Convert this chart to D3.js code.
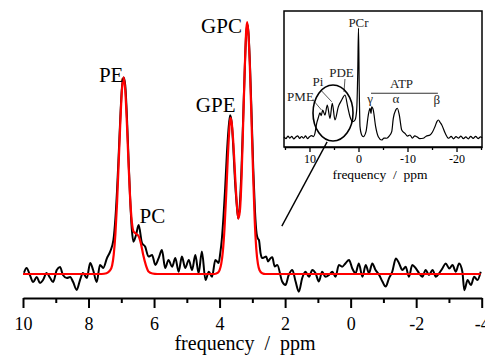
<!DOCTYPE html>
<html>
<head>
<meta charset="utf-8">
<script src="https://cdn.jsdelivr.net/npm/d3@7"></script>
<style>
  html, body { margin: 0; padding: 0; background: #fff; }
  svg { display: block; font-family: "Liberation Serif", "Times New Roman", serif; }
</style>
</head>
<body>
<svg id="chart" width="485" height="356"></svg>
<script>
// measured spectrum (main panel), ppm vs. signal (GPC peak = 100)
const mainPpm = [
  9.97, 9.89, 9.79, 9.69, 9.58, 9.48, 9.39, 9.28, 9.17, 9.08,
  8.97, 8.87, 8.78, 8.66, 8.56, 8.47, 8.36, 8.26, 8.17, 8.05,
  7.95, 7.86, 7.75, 7.65, 7.55, 7.44, 7.34, 7.24, 7.18, 7.13,
  7.08, 7.03, 6.98, 6.93, 6.88, 6.83, 6.78, 6.73, 6.68, 6.63,
  6.55, 6.47, 6.37, 6.27, 6.17, 6.06, 5.96, 5.86, 5.76, 5.66,
  5.56, 5.45, 5.35, 5.25, 5.15, 5.05, 4.94, 4.84, 4.74, 4.64,
  4.54, 4.43, 4.33, 4.23, 4.13, 4.03, 3.98, 3.93, 3.88, 3.83,
  3.78, 3.73, 3.68, 3.63, 3.58, 3.53, 3.48, 3.43, 3.38, 3.33,
  3.28, 3.23, 3.19, 3.15, 3.12, 3.07, 3.02, 2.97, 2.92, 2.87,
  2.83, 2.80, 2.75, 2.70, 2.65, 2.58, 2.52, 2.45, 2.39, 2.32,
  2.24, 2.09, 1.99, 1.89, 1.78, 1.68, 1.58, 1.48, 1.38, 1.27,
  1.17, 1.07, 0.97, 0.87, 0.77, 0.66, 0.56, 0.46, 0.36, 0.26,
  0.16, 0.05, -0.05, -0.15, -0.25, -0.36, -0.46, -0.56, -0.66, -0.76,
  -0.87, -0.97, -1.07, -1.17, -1.27, -1.38, -1.48, -1.58, -1.68, -1.78,
  -1.88, -1.99, -2.09, -2.19, -2.29, -2.39, -2.50, -2.60, -2.70, -2.80,
  -2.90, -3.01, -3.11, -3.21, -3.31, -3.41, -3.47, -3.57, -3.67, -3.77,
  -3.87, -3.97
];
const mainSignal = [
  0.5, 2.4, -0.4, -3.2, -1.2, -3.6, -2.4, 0.4, -1.6, -3.2,
  1.6, 2.8, -0.4, -1.6, -1.2, -3.2, -6.3, -2.4, 0.4, -1.6,
  4.4, 1.6, -3.2, 3.6, 2.4, 6.2, 8.9, 13.5, 22, 33,
  47, 62, 74, 78, 75, 63, 46, 30, 18, 12.8,
  15.5, 19.4, 12.3, 10.8, 6.9, 7.5, 3.6, 6.3, 9.5, 2.4,
  5.6, 2.9, 6.3, 0.9, 6.9, 2.4, 5.6, 1.6, 7.5, 0.3,
  8.9, -2.4, 0.9, -1.1, 5.6, 4.4, 8.2, 14, 23, 34,
  47, 57, 63, 60, 50, 37, 28, 22, 28, 42,
  62, 82, 95, 99, 96, 82, 62, 41, 25, 16,
  14, 13.5, 8.3, 6.3, 6.5, 6.9, 5, 6.2, 6.6, 3,
  3.6, -3.0, -4.4, -0.4, 1.6, -3.0, -7.0, -1.7, 0.9, -1.1,
  1.6, 0.3, -3.0, 0.9, -1.1, -0.4, 0.9, -1.1, 3.6, 2.9,
  4.2, 5.6, 2.2, 0.3, 4.2, -1.1, 3.6, 0.3, 4.2, 1.6,
  -0.4, -3.0, -5.0, -1.7, 0.9, 6.2, 4.2, 1.6, 2.9, -1.1,
  3.6, 2.2, 0.3, -1.1, 1.6, -0.4, 1.6, -1.1, 0.3, 2.2,
  4.2, 2.2, 3.6, 0.9, 4.2, 0.9, -6.4, -2.4, -4.4, -1.1,
  -2.4, 0.9
];

// fitted curve (red)
const fitPpm = [
  10, 7.6, 7.45, 7.35, 7.28, 7.23, 7.18, 7.13, 7.08, 7.03,
  6.98, 6.93, 6.88, 6.83, 6.78, 6.73, 6.68, 6.63, 6.55, 6.47,
  6.4, 6.33, 6.25, 6.17, 6.05, 5.9, 4.15, 4.05, 4.0, 3.95,
  3.9, 3.85, 3.8, 3.75, 3.7, 3.67, 3.63, 3.58, 3.53, 3.48,
  3.43, 3.38, 3.33, 3.28, 3.23, 3.19, 3.16, 3.13, 3.08, 3.03,
  2.98, 2.93, 2.88, 2.83, 2.78, 2.7, 2.6, -3.97
];
const fitSignal = [
  0, 0, 0.3, 1.3, 3.4, 7.8, 15.8, 28, 44, 60,
  73, 78, 73, 60, 44, 30, 21, 17, 16, 15,
  12, 7.5, 3.5, 1, 0.2, 0, 0, 0.5, 1.5, 4,
  9, 18, 31, 46, 58, 62, 60, 52, 40, 29,
  22, 25, 38, 60, 82, 96, 100, 97, 84, 63,
  41, 22, 10, 4, 1.5, 0.3, 0, 0
];

const mainTicks = [10, 8, 6, 4, 2, 0, -2, -4];
const mainMinorTicks = [9, 7, 5, 3, 1, -1, -3];

const peakNames = ['PE', 'PC', 'GPE', 'GPC'];
const peakLabelPpm = [7.31, 6.05, 4.12, 3.94];
const peakLabelSignal = [76.2, 20.2, 64.3, 95.6];

// inset: full 31P spectrum
const insetPpm = [
  15.2, 14.8, 14.4, 14.0, 13.6, 13.2, 12.8, 12.4, 12.0, 11.6,
  11.2, 10.8, 10.4, 10.0, 9.6, 9.2, 8.9, 8.53, 8.2, 7.86,
  7.6, 7.31, 6.84, 6.37, 5.82, 5.35, 4.8, 4.12, 3.43, 2.76,
  2.2, 1.73, 1.18, 0.71, 0.37, 0.15, 0.0, -0.15, -0.31, -0.65,
  -0.98, -1.53, -2.0, -2.35, -2.55, -2.69, -3.02, -3.5, -4.04, -4.73,
  -5.2, -5.76, -6.3, -6.78, -7.1, -7.59, -7.92, -8.33, -8.82, -9.49,
  -10.0, -10.5, -11.0, -11.5, -11.9, -12.5, -13.2, -13.8, -14.6, -15.1,
  -15.6, -16.0, -16.3, -16.7, -17.0, -17.7, -18.4, -18.9, -19.4, -19.9,
  -20.4, -20.9, -21.4, -21.9, -22.4, -22.9, -23.4, -23.9, -24.4, -24.9,
  -25.2
];
const insetSignal = [
  0.5, -1, 1.2, -0.5, 1, -1.3, 0.4, 1.5, -0.8, 0.9,
  -0.6, 1.4, -1, 0.6, 1.8, 0.8, 3.5, 13, 18, 22.4,
  20, 25, 20.5, 29.7, 17.5, 31.2, 16, 28, 34.2, 38.8,
  28, 19, 14.4, 16, 25, 60, 100, 45, 9.9, 2.3,
  0.7, 5.3, 20.5, 26.7, 22, 28, 25, 9.9, 0.7, -2.3,
  -0.5, -0.7, 1.5, 5.3, 17.5, 25, 26.7, 20.5, 6.8, 3.8,
  1.2, 2.3, -0.5, 1.5, 0.7, -1.0, -0.7, 1.2, 2.3, 5,
  9.9, 14.5, 16, 13.5, 11.4, 3.8, -0.7, 1.0, -1.2, 0.8,
  -0.6, 1.3, -1.0, 0.5, -1.2, 1.0, -0.8, 1.1, -1.0, 0.6,
  -0.4
];
const insetTicks = [10, 0, -10, -20];
const insetMinorTicks = [15, 5, -5, -15, -25];

const insetNames = ['PCr', 'PDE', 'Pi', 'PME', 'ATP', 'γ', 'α', 'β'];
const insetLabelPpm = [0, 3.47, 8.27, 11.84, -8.78, -2.35, -7.65, -16.0];
const insetLabelSignal = [100.9, 55.3, 46.6, 33.3, 45.5, 31.5, 31.5, 30.6];

const svg = d3.select('#chart');

// Main scales
const x = d3.scaleLinear().domain([10, -4]).range([23, 481.7]);
const y = d3.scaleLinear().domain([0, 100]).range([274, 22]);

const mainLine = d3.line()
  .x(d => x(d[0]))
  .y(d => y(d[1]))
  .curve(d3.curveMonotoneX);

// Bottom axis
const gx = svg.append('g')
  .attr('transform', 'translate(0,298)')
  .call(d3.axisBottom(x)
    .tickValues(mainTicks)
    .tickSize(10)
    .tickSizeOuter(0)
    .tickPadding(9)
    .tickFormat(d => String(d)));
gx.attr('font-family', null).attr('font-size', 18);
gx.select('.domain').attr('stroke-width', 2);
gx.selectAll('.tick line').attr('stroke-width', 2);
gx.selectAll('.tick text').attr('fill', '#000');

svg.append('g')
  .attr('transform', 'translate(0,298)')
  .call(d3.axisBottom(x).tickValues(mainMinorTicks).tickSize(5).tickFormat(''))
  .call(g => g.select('.domain').remove())
  .selectAll('.tick line').attr('stroke-width', 2);

svg.append('text')
  .attr('x', 245)
  .attr('y', 350)
  .attr('text-anchor', 'middle')
  .attr('font-size', 20)
  .attr('xml:space', 'preserve')
  .style('white-space', 'pre')
  .text('frequency  /  ppm');

// Spectrum + fit
svg.append('path')
  .datum(d3.zip(mainPpm, mainSignal))
  .attr('fill', 'none')
  .attr('stroke', '#000')
  .attr('stroke-width', 2)
  .attr('stroke-linejoin', 'round')
  .attr('d', mainLine);

svg.append('path')
  .datum(d3.zip(fitPpm, fitSignal))
  .attr('fill', 'none')
  .attr('stroke', '#ff0000')
  .attr('stroke-width', 2.2)
  .attr('stroke-linejoin', 'round')
  .attr('d', mainLine);

svg.append('g')
  .selectAll('text')
  .data(peakNames)
  .join('text')
  .attr('x', (d, i) => x(peakLabelPpm[i]))
  .attr('y', (d, i) => y(peakLabelSignal[i]))
  .attr('text-anchor', 'middle')
  .attr('font-size', 21)
  .attr('fill', '#000')
  .text(d => d);

// Inset
const xi = d3.scaleLinear().domain([15.2, -25.2]).range([284, 482]);
const yi = d3.scaleLinear().domain([0, 100]).range([137.5, 28]);

const inset = svg.append('g');

inset.append('rect')
  .attr('x', 284).attr('y', 11)
  .attr('width', 198).attr('height', 136)
  .attr('fill', '#fff')
  .attr('stroke', '#000')
  .attr('stroke-width', 1.5);

const insetLine = d3.line()
  .x(d => xi(d[0]))
  .y(d => yi(d[1]))
  .curve(d3.curveMonotoneX);

inset.append('path')
  .datum(d3.zip(insetPpm, insetSignal))
  .attr('fill', 'none')
  .attr('stroke', '#000')
  .attr('stroke-width', 1.2)
  .attr('stroke-linejoin', 'round')
  .attr('d', insetLine);

const gxi = inset.append('g')
  .attr('transform', 'translate(0,147)')
  .call(d3.axisBottom(xi)
    .tickValues(insetTicks)
    .tickSize(5)
    .tickSizeOuter(0)
    .tickPadding(2)
    .tickFormat(d => String(d)));
gxi.attr('font-family', null).attr('font-size', 12);
gxi.select('.domain').attr('stroke-width', 1.5);
gxi.selectAll('.tick line').attr('stroke-width', 1.3);
gxi.selectAll('.tick text').attr('fill', '#000');

inset.append('g')
  .attr('transform', 'translate(0,147)')
  .call(d3.axisBottom(xi).tickValues(insetMinorTicks).tickSize(3).tickFormat(''))
  .call(g => g.select('.domain').remove())
  .selectAll('.tick line').attr('stroke-width', 1.3);

inset.append('text')
  .attr('x', 380)
  .attr('y', 179)
  .attr('text-anchor', 'middle')
  .attr('font-size', 13.5)
  .attr('xml:space', 'preserve')
  .style('white-space', 'pre')
  .text('frequency  /  ppm');

inset.append('g')
  .selectAll('text')
  .data(insetNames)
  .join('text')
  .attr('x', (d, i) => xi(insetLabelPpm[i]))
  .attr('y', (d, i) => yi(insetLabelSignal[i]))
  .attr('text-anchor', 'middle')
  .attr('font-size', 13)
  .attr('fill', '#222')
  .text(d => d);

// ATP bracket
inset.append('line')
  .attr('x1', xi(-2.55)).attr('x2', xi(-16.2))
  .attr('y1', yi(40.4)).attr('y2', yi(40.4))
  .attr('stroke', '#333').attr('stroke-width', 1.2);

// label leaders (PME, Pi, PDE)
const leaders = [
  [[9.27, 34.2], [7.55, 25.1]],
  [[7.71, 43.4], [5.47, 32.7]],
  [[2.76, 53.4], [2.96, 41.6]]
];
inset.append('g')
  .selectAll('line')
  .data(leaders)
  .join('line')
  .attr('x1', d => xi(d[0][0])).attr('y1', d => yi(d[0][1]))
  .attr('x2', d => xi(d[1][0])).attr('y2', d => yi(d[1][1]))
  .attr('stroke', '#444').attr('stroke-width', 0.9);

// circled region and pointer to the main panel
inset.append('ellipse')
  .attr('cx', xi(5.2)).attr('cy', yi(22.4))
  .attr('rx', 20).attr('ry', 28)
  .attr('fill', 'none')
  .attr('stroke', '#000')
  .attr('stroke-width', 1.6);

svg.append('line')
  .attr('x1', xi(6.4)).attr('y1', yi(-4))
  .attr('x2', x(2.1)).attr('y2', y(19))
  .attr('stroke', '#000')
  .attr('stroke-width', 1.4);
</script>
</body>
</html>
